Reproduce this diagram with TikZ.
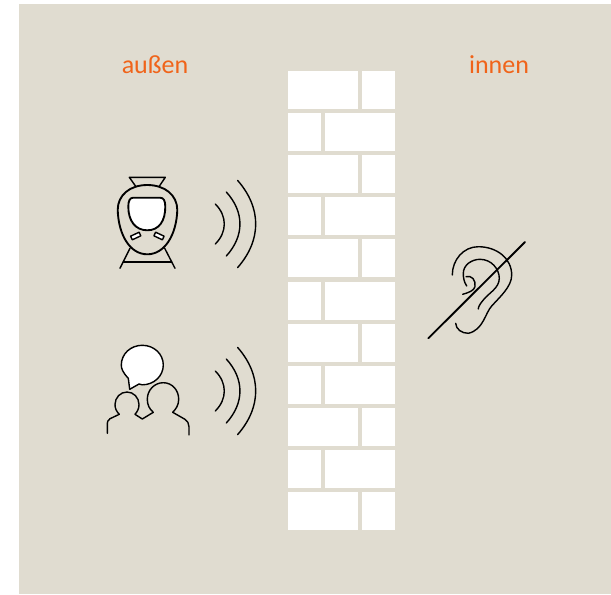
\documentclass[tikz,border=0pt]{standalone}
\usepackage{fontspec}
\setmainfont{Carlito}
\definecolor{wandgrund}{HTML}{E0DCD0}
\definecolor{ortfarbe}{HTML}{F0641A}
\tikzset{
  ortlabel/.style={text=ortfarbe,font=\fontsize{19.5}{22}\selectfont,inner sep=0pt},
  ziegel/.style={fill=white,draw=none},
  linie/.style={line width=1.05pt,line cap=round,line join=round},
  dicklinie/.style={line width=1.4pt,line cap=round,line join=round},
}
\newcommand{\schallwellen}[1]{%
  \draw[linie] (215.3,#1-20) .. controls (227.3,#1-8) and (227.3,#1+8) .. (215.3,#1+20);
  \draw[linie] (226.3,#1-32) .. controls (244.5,#1-12) and (244.5,#1+12) .. (226.3,#1+32);
  \draw[linie] (237.7,#1-43.5) .. controls (261.7,#1-16) and (261.7,#1+16) .. (237.7,#1+43.5);
}
\begin{document}
\begin{tikzpicture}[x=0.75pt,y=-0.75pt]
    \useasboundingbox (0,0) rectangle (611,594);
    \fill[wandgrund] (19,4) rectangle (611,594);
    \node[ortlabel] (aussen) at (155,65) {außen};
    \node[ortlabel] (innen) at (499,65) {innen};
    \foreach \y in {0,2,...,10} {
      \fill[ziegel] (288,71+42.1*\y) rectangle (358,109+42.1*\y);
      \fill[ziegel] (362,71+42.1*\y) rectangle (395,109+42.1*\y);
    }
    \foreach \y in {1,3,...,9} {
      \fill[ziegel] (288,71+42.1*\y) rectangle (321,109+42.1*\y);
      \fill[ziegel] (325,71+42.1*\y) rectangle (395,109+42.1*\y);
    }
    \draw[linie] (136,186.7) -- (129.3,177.3) -- (165.3,177.3) -- (159,186.7);
    \draw[dicklinie] (147.3,185) .. controls (130,185) and (117.7,195) .. (117.7,210)
      .. controls (118.5,235) and (130,254.3) .. (147.3,254.3)
      .. controls (164.6,254.3) and (176.5,235) .. (177.3,210)
      .. controls (177.3,195) and (164.6,185) .. (147.3,185) -- cycle;
    \draw[dicklinie,fill=white] (133.3,197.7) -- (160,197.7)
      .. controls (163.5,197.7) and (165.3,200.5) .. (165.3,206.7)
      .. controls (165.3,221) and (159,230.3) .. (147.3,230.3)
      .. controls (135.6,230.3) and (128.3,221) .. (128.3,206.7)
      .. controls (128.3,200.5) and (130,197.7) .. (133.3,197.7) -- cycle;
    \draw[linie,fill=white,rotate around={25:(135.7,236)}] (131,234) rectangle (140.4,238);
    \draw[linie,fill=white,rotate around={-25:(159,236)}] (154.3,234) rectangle (163.7,238);
    \draw[linie] (130,248.3) -- (120,268.3);
    \draw[linie] (164.7,248.3) -- (175,268.3);
    \draw[linie] (123.3,262) -- (171.7,262);
    \schallwellen{224}
    \schallwellen{391}
    \draw[linie,fill=white] (128.3,378.3) .. controls (122.5,372) and (121.3,368.5) .. (121.3,365)
      .. controls (121.3,354) and (130.5,345.3) .. (142.3,345.3)
      .. controls (154,345.3) and (163.3,354) .. (163.3,365)
      .. controls (163.3,376) and (154,384.8) .. (142.3,384.8)
      .. controls (141,384.8) and (140,384.5) .. (139,384) -- (129.7,389.3) -- cycle;
    \draw[linie] (107.3,433.3) -- (107.3,425) .. controls (107.3,421.5) and (108,420) .. (110,418.7)
      -- (119.3,414.3) .. controls (116.5,411.5) and (115,408.5) .. (115,404.5)
      .. controls (115,397.5) and (120.5,392) .. (127,392)
      .. controls (133.5,392) and (139,397.5) .. (139,404.5)
      .. controls (139,408.5) and (137.5,411.5) .. (135,414.3)
      -- (142.3,419) -- (153.3,412.3) .. controls (149.5,409) and (147.3,405) .. (147.3,399.3)
      .. controls (147.3,390) and (154.5,382.7) .. (163.3,382.7)
      .. controls (172,382.7) and (178.7,390) .. (178.7,399.3)
      .. controls (178.7,405) and (176,409) .. (172.7,412.3)
      -- (185,419.3) .. controls (187.5,421) and (189,423.5) .. (189,426.7) -- (189,435);
    \draw[linie] (452.3,275) .. controls (452.3,260) and (463.3,246.7) .. (478.3,246.7)
      .. controls (496.7,246.7) and (511.7,258.3) .. (511.7,275)
      .. controls (511.7,286.7) and (500,296.7) .. (491.7,306)
      .. controls (485,313.3) and (483.3,330) .. (468.3,333.3)
      .. controls (461.7,333.3) and (456,329.3) .. (455.7,323.3);
    \draw[linie] (466.7,286) .. controls (464,281.7) and (463.3,278.3) .. (463.3,273.3)
      .. controls (463.3,265) and (471.7,259.3) .. (480,259.3)
      .. controls (491.7,259.3) and (499.3,269.3) .. (499.3,278.3)
      .. controls (499.3,288.3) and (488.3,293.3) .. (483.3,300)
      .. controls (480,304) and (478.3,306.7) .. (478.3,309);
    \draw[linie] (466,276.7) .. controls (471.7,275) and (476,280) .. (475,286.7)
      .. controls (474,290.7) and (468.3,292.7) .. (462.7,294.3);
    \draw[dicklinie] (525,242) -- (428.3,338.3);
\end{tikzpicture}
\end{document}
